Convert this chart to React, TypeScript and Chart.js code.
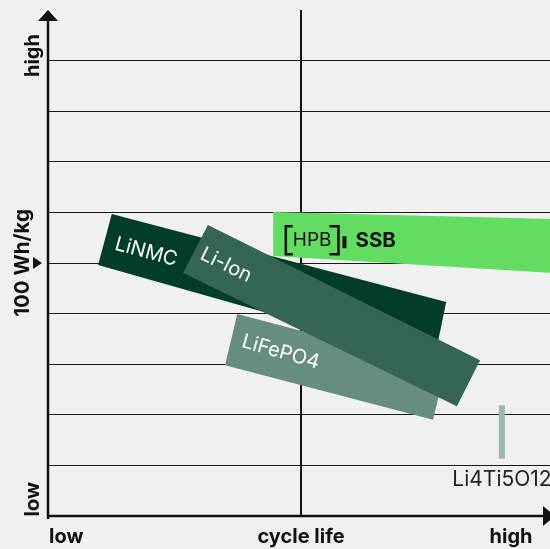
import React, { useEffect, useRef } from "react";
import { Chart, registerables } from "chart.js";

Chart.register(...registerables);

// ---- data (value space: 0..10 on both axes) ----
const xTickLabels = ["low", "cycle life", "high"];
const xTickValues = [0, 5, 9.15];
const yTickLabels = ["low", "100 Wh/kg", "high"];
const yTickValues = [0.33, 5, 9.1];
const yMarkerValue = 5;

const seriesNames = ["LiNMC", "Li-Ion", "LiFePO4", "SSB", "Li4Ti5O12"];
const liNMC = [[1.26, 5.97], [7.87, 4.23], [7.63, 3.08], [0.99, 4.96]];
const liIon = [[3.16, 5.75], [8.54, 3.08], [8.08, 2.17], [2.67, 4.8]];
const liFePO4 = [[3.74, 3.99], [7.85, 2.91], [7.61, 1.9], [3.5, 2.98]];
const ssb = [[4.45, 6.01], [10, 5.87], [10, 4.8], [4.45, 5.14]];
const li4Ti5O12 = [[8.91, 2.19], [9.03, 2.19], [9.03, 1.13], [8.91, 1.13]];

// label anchors (value space) and rotation
const labelAnchors = [[1.94, 5.22], [3.52, 4.96], [4.6, 3.24], [4.68, 5.45], [7.99, 0.71]];
const labelAngles = [15, 26, 16, 0, 0];

const colors = ["#023d27", "#356553", "#678d7e", "#62dd62", "#9db9ad"];
const orders = [4, 1, 2, 0, 3];

const FONT = "Inter, 'Noto Sans', sans-serif";
const INK = "#111111";

const toPts = (arr: number[][]) => arr.map(([x, y]) => ({ x, y }));

const decorPlugin = {
  id: "decor",
  beforeDraw(chart: any) {
    const { ctx, width, height } = chart;
    ctx.save();
    ctx.fillStyle = "#f0f0f0";
    ctx.fillRect(0, 0, width, height);
    ctx.restore();
  },
  afterDatasetsDraw(chart: any) {
    const { ctx, chartArea } = chart;
    const xs = chart.scales.x;
    const ys = chart.scales.y;
    const x0 = xs.getPixelForValue(0);
    const y0 = ys.getPixelForValue(0);
    const top = chartArea.top;
    const right = chartArea.right;
    ctx.save();
    ctx.fillStyle = INK;
    ctx.strokeStyle = INK;
    // y axis
    ctx.lineWidth = 2.5;
    ctx.beginPath();
    ctx.moveTo(x0, y0 + 3);
    ctx.lineTo(x0, top + 10);
    ctx.stroke();
    ctx.beginPath();
    ctx.moveTo(x0 - 10, top + 11);
    ctx.lineTo(x0 + 10, top + 11);
    ctx.lineTo(x0, top);
    ctx.closePath();
    ctx.fill();
    // x axis
    ctx.beginPath();
    ctx.moveTo(x0 - 1, y0);
    ctx.lineTo(right - 10, y0);
    ctx.stroke();
    ctx.beginPath();
    ctx.moveTo(right - 11, y0 - 10);
    ctx.lineTo(right - 11, y0 + 10);
    ctx.lineTo(right + 1, y0);
    ctx.closePath();
    ctx.fill();
    // y marker triangle
    const ym = ys.getPixelForValue(yMarkerValue);
    ctx.beginPath();
    ctx.moveTo(x0 - 15, ym - 6);
    ctx.lineTo(x0 - 15, ym + 6);
    ctx.lineTo(x0 - 6, ym);
    ctx.closePath();
    ctx.fill();

    // x tick labels
    ctx.font = `bold 20px ${FONT}`;
    ctx.textBaseline = "middle";
    xTickLabels.forEach((t, i) => {
      const px = xs.getPixelForValue(xTickValues[i]);
      ctx.textAlign = i === 0 ? "left" : "center";
      ctx.fillText(t, i === 0 ? px + 1 : px, y0 + 21);
    });
    // y tick labels (rotated)
    yTickLabels.forEach((t, i) => {
      const py = ys.getPixelForValue(yTickValues[i]);
      ctx.save();
      ctx.translate(i === 1 ? x0 - 25 : x0 - 15, py);
      ctx.rotate(-Math.PI / 2);
      ctx.textAlign = "center";
      ctx.textBaseline = "middle";
      ctx.font = `bold ${i === 1 ? 20.5 : 20}px ${FONT}`;
      ctx.fillText(t, 0, 0);
      ctx.restore();
    });

    // series labels
    seriesNames.forEach((name, i) => {
      const px = xs.getPixelForValue(labelAnchors[i][0]);
      const py = ys.getPixelForValue(labelAnchors[i][1]);
      if (name === "SSB") {
        ctx.save();
        ctx.font = `19px ${FONT}`;
        ctx.textAlign = "left";
        ctx.textBaseline = "middle";
        const tw = ctx.measureText("HPB").width;
        ctx.lineWidth = 2.5;
        ctx.lineCap = "butt";
        // left bracket
        ctx.beginPath();
        ctx.moveTo(px + 8, py - 14);
        ctx.lineTo(px + 1, py - 14);
        ctx.lineTo(px + 1, py + 14);
        ctx.lineTo(px + 8, py + 14);
        ctx.stroke();
        ctx.fillText("HPB", px + 8, py);
        const bx = px + 8 + tw + 7;
        ctx.beginPath();
        ctx.moveTo(bx - 9, py - 14);
        ctx.lineTo(bx, py - 14);
        ctx.lineTo(bx, py + 14);
        ctx.lineTo(bx - 9, py + 14);
        ctx.stroke();
        ctx.fillRect(bx + 4, py - 4, 4, 12);
        ctx.font = `bold 20.5px ${FONT}`;
        ctx.fillText("SSB", bx + 17, py + 1);
        ctx.restore();
      } else if (name === "Li4Ti5O12") {
        ctx.save();
        ctx.font = `21px ${FONT}`;
        ctx.fillStyle = "#222";
        ctx.textAlign = "left";
        ctx.textBaseline = "middle";
        ctx.fillText(name, px, py);
        ctx.restore();
      } else {
        ctx.save();
        ctx.translate(px, py);
        ctx.rotate((labelAngles[i] * Math.PI) / 180);
        ctx.font = `20px ${FONT}`;
        ctx.fillStyle = "#ffffff";
        ctx.textAlign = "center";
        ctx.textBaseline = "middle";
        ctx.fillText(name, 0, 0);
        ctx.restore();
      }
    });
    ctx.restore();
  },
};

export default function App() {
  const ref = useRef<HTMLCanvasElement | null>(null);
  useEffect(() => {
    if (!ref.current) return;
    const series = [liNMC, liIon, liFePO4, ssb, li4Ti5O12];
    const chart = new Chart(ref.current, {
      type: "scatter",
      data: {
        datasets: series.map((s, i) => ({
          label: seriesNames[i],
          data: toPts(s),
          showLine: true,
          fill: "shape",
          backgroundColor: colors[i],
          borderColor: "rgba(0,0,0,0)",
          borderWidth: 0,
          pointRadius: 0,
          pointHoverRadius: 0,
          tension: 0,
          order: orders[i],
        })) as any,
      },
      options: {
        animation: false,
        responsive: true,
        maintainAspectRatio: false,
        events: [],
        layout: { padding: { left: 48, right: 6, top: 10, bottom: 33 } },
        plugins: {
          legend: { display: false },
          tooltip: { enabled: false },
          title: { display: false },
        },
        scales: {
          x: {
            type: "linear",
            min: 0,
            max: 10,
            ticks: { display: false, stepSize: 1 },
            border: { display: false },
            grid: {
              drawTicks: false,
              color: (c: any) => (c.tick && c.tick.value === 5 ? INK : "rgba(0,0,0,0)"),
              lineWidth: 2,
            },
            afterFit: (s: any) => {
              s.height = 0;
            },
          },
          y: {
            type: "linear",
            min: 0,
            max: 10,
            ticks: { display: false, stepSize: 1 },
            border: { display: false },
            grid: {
              drawTicks: false,
              color: (c: any) =>
                c.tick && c.tick.value > 0 && c.tick.value < 10 ? "#1a1a1a" : "rgba(0,0,0,0)",
              lineWidth: 1,
            },
            afterFit: (s: any) => {
              s.width = 0;
            },
          },
        },
      } as any,
      plugins: [decorPlugin],
    });
    return () => chart.destroy();
  }, []);

  return (
    <div
      style={{
        position: "fixed",
        left: 0,
        top: 0,
        width: 550,
        height: 549,
        overflow: "hidden",
        background: "#f0f0f0",
      }}
    >
      <div style={{ position: "relative", width: 560, height: 549 }}>
        <canvas ref={ref} />
      </div>
    </div>
  );
}
